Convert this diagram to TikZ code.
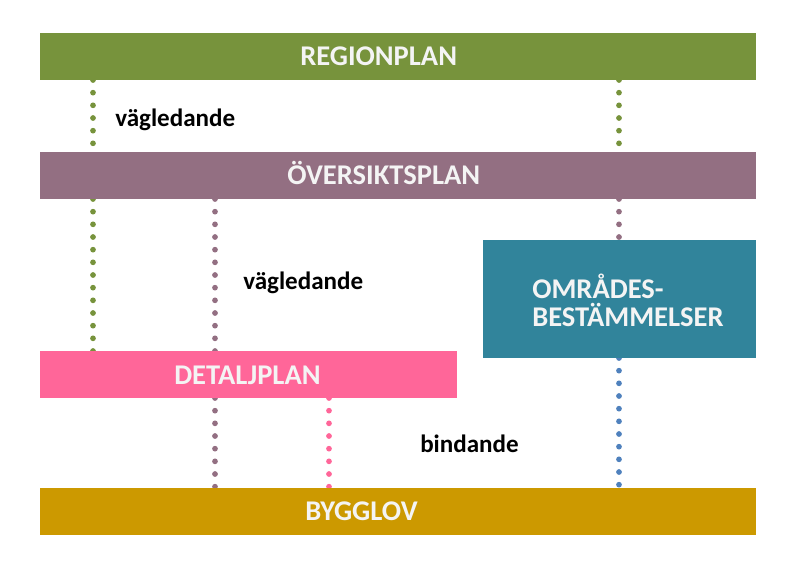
\documentclass[tikz,border=0pt]{standalone}
\usepackage{fontspec}
\setmainfont{Carlito}
\usetikzlibrary{backgrounds}
\definecolor{cgreen}{HTML}{77933C}
\definecolor{cmauve}{HTML}{936F82}
\definecolor{cteal}{HTML}{31849B}
\definecolor{cpink}{HTML}{FF6699}
\definecolor{cgold}{HTML}{CC9900}
\definecolor{cblue}{HTML}{4F81BD}
\definecolor{ctext}{HTML}{F4F4F4}
\begin{document}
\begin{tikzpicture}[x=0.75pt,y=-0.75pt,
  bar/.style={draw=none, inner sep=0pt, outer sep=0pt, anchor=north west},
  bartext/.style={inner sep=0pt, anchor=base west, text=ctext, font=\bfseries\fontsize{21.4}{25}\selectfont},
  lbl/.style={inner sep=0pt, anchor=base west, text=black, font=\bfseries\fontsize{18.8}{22}\selectfont},
  dots/.style={line width=4.3pt, line cap=round, dash pattern=on 0pt off 9.5pt}]
\useasboundingbox (0,0) rectangle (797,583);
% bars
\node[bar, fill=cgreen, minimum width=537pt, minimum height=35.25pt] (region) at (40,33) {};
\node[bar, fill=cmauve, minimum width=537pt, minimum height=35.25pt] (over) at (40,152) {};
\node[bar, fill=cteal, minimum width=204.75pt, minimum height=88.5pt] (omr) at (483,240) {};
\node[bar, fill=cpink, minimum width=312.75pt, minimum height=35.25pt] (detalj) at (40,351) {};
\node[bar, fill=cgold, minimum width=537pt, minimum height=35.25pt] (bygg) at (40,488) {};
% texts
\node[bartext] (tregion) at (300,65.5) {REGIONPLAN};
\node[bartext] (tover) at (287,184.5) {ÖVERSIKTSPLAN};
\node[bartext] (tomr1) at (532,298.3) {OMRÅDES-};
\node[bartext] (tomr2) at (532,326.7) {BESTÄMMELSER};
\node[bartext] (tdetalj) at (174,384) {DETALJPLAN};
\node[bartext] (tbygg) at (305,520.7) {BYGGLOV};
\node[lbl] (l1) at (115,126.7) {vägledande};
\node[lbl] (l2) at (243,289) {vägledande};
\node[lbl] (l3) at (420,452.7) {bindande};
% x positions
\coordinate (xa) at (93,0);
\coordinate (xb) at (215,0);
\coordinate (xc) at (329,0);
\coordinate (xd) at (619,0);
\begin{scope}[on background layer]
\draw[dots, cgreen] (region.south -| xa) -- (over.north -| xa);
\draw[dots, cgreen] (region.south -| xd) -- (over.north -| xd);
\draw[dots, cgreen] (over.south -| xa) -- (detalj.north -| xa);
\draw[dots, cmauve] (over.south -| xb) -- (detalj.north -| xb);
\draw[dots, cmauve] (over.south -| xd) -- (omr.north -| xd);
\draw[dots, cmauve] (detalj.south -| xb) -- (bygg.north -| xb);
\draw[dots, cpink] (detalj.south -| xc) -- (bygg.north -| xc);
\draw[dots, cblue] (omr.south -| xd) -- (bygg.north -| xd);
\end{scope}
\end{tikzpicture}
\end{document}
